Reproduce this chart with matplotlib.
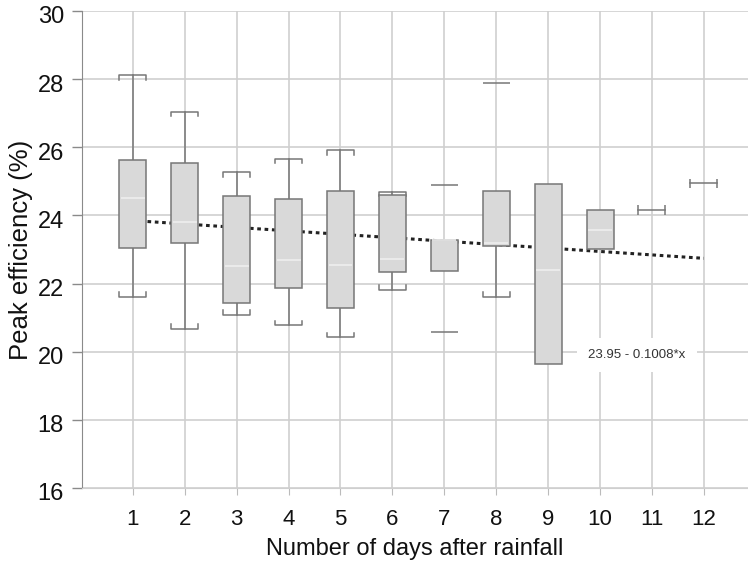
import numpy as np
import matplotlib.pyplot as plt
from matplotlib.transforms import ScaledTranslation

plt.rcParams['font.family'] = ['Liberation Sans', 'DejaVu Sans']

# Box statistics (None = no whisker drawn)
days = [1, 2, 3, 4, 5, 6, 7, 8, 9, 10]
q1 = [23.05, 23.20, 21.42, 21.87, 21.27, 22.35, 22.38, 23.10, 19.64, 23.00]
median = [24.52, 23.82, 22.52, 22.68, 22.53, 22.73, 23.28, 23.18, 22.40, 23.57]
q3 = [25.63, 25.53, 24.57, 24.48, 24.72, 24.60, 23.28, 24.72, 24.91, 24.16]
whisk_lo = [21.62, 20.68, 21.07, 20.77, 20.42, 21.81, None, 21.60, None, None]
whisk_hi = [28.11, 27.05, 25.26, 25.67, 25.92, 24.70, None, None, None, None]

# extreme values shown as plain dashes
outlier_day = [7, 7, 8]
outlier_val = [24.88, 20.57, 27.90]

# days with a single observation
single_day = [11, 12]
single_val = [24.16, 24.94]

# fitted trend
intercept, slope = 23.95, -0.1008

fig = plt.figure(figsize=(7.48, 5.64), dpi=100)
ax = fig.add_axes([0.1096, 0.1348, 0.8904, 0.8457])

grid_c = '#cfcfcf'
edge_c = '#777777'
w = 0.52
tick_d = 0.14

ax.set_xlim(0.02, 12.85)
ax.set_ylim(16, 30)
ax.set_xticks(range(1, 13))
ax.set_yticks(range(16, 31, 2))
ax.grid(True, color=grid_c, lw=1.2, zorder=0)
ax.set_axisbelow(True)

for s in ['top', 'right']:
    ax.spines[s].set_visible(False)
ax.spines['left'].set_color('#8a8a8a')
ax.spines['bottom'].set_color(grid_c)
ax.tick_params(axis='y', colors='#8a8a8a', length=7, width=1, pad=6,
               labelcolor='#111111', labelsize=17)
ax.tick_params(axis='x', colors='#bbbbbb', length=5, labelcolor='#111111',
               labelsize=16, pad=10)
# y labels sit a little below their ticks in the original
for lab in ax.get_yticklabels():
    lab.set_transform(lab.get_transform() + ScaledTranslation(0, -4 / 100, fig.dpi_scale_trans))

# trend line
xt = np.array([1, 12])
ax.plot(xt, intercept + slope * xt, color='#222222', lw=2.2, ls=(0, (1.2, 1.2)), zorder=2)

# whiskers and bracket caps
for d, lo, hi, a, b in zip(days, whisk_lo, whisk_hi, q1, q3):
    if lo is not None:
        ax.plot([d, d], [lo, a], color=edge_c, lw=1.1, zorder=3)
        ax.plot([d - w / 2, d - w / 2, d + w / 2, d + w / 2],
                [lo + tick_d, lo, lo, lo + tick_d], color=edge_c, lw=1.1, zorder=3)
    if hi is not None:
        ax.plot([d, d], [b, hi], color=edge_c, lw=1.1, zorder=3)
        ax.plot([d - w / 2, d - w / 2, d + w / 2, d + w / 2],
                [hi - tick_d, hi, hi, hi - tick_d], color=edge_c, lw=1.1, zorder=3)

# boxes
ax.bar(days, np.array(q3) - np.array(q1), bottom=q1, width=w,
       color='#d9d9d9', edgecolor=edge_c, lw=1.1, zorder=4)
ax.hlines(median, np.array(days) - w / 2 + 0.03, np.array(days) + w / 2 - 0.03,
          color='#eeeeee', lw=1.2, zorder=5)

# extremes
ax.hlines(outlier_val, np.array(outlier_day) - w / 2, np.array(outlier_day) + w / 2,
          color=edge_c, lw=1.1, zorder=3)

# single observations
for d, v in zip(single_day, single_val):
    ax.plot([d - w / 2, d + w / 2], [v, v], color=edge_c, lw=1.1, zorder=3)
    ax.vlines([d - w / 2, d + w / 2], v - tick_d, v + tick_d, color=edge_c, lw=1.1, zorder=3)

ax.text(10.71, 19.9, '23.95 - 0.1008*x', fontsize=9.5, color='#333333',
        ha='center', va='center', zorder=6,
        bbox=dict(facecolor='white', edgecolor='none', pad=8))

ax.set_xlabel('Number of days after rainfall', fontsize=17, color='#111111', labelpad=6)
ax.set_ylabel('Peak efficiency (%)', fontsize=18.5, color='#111111', labelpad=3)

fig.savefig('out.png', dpi=100)
